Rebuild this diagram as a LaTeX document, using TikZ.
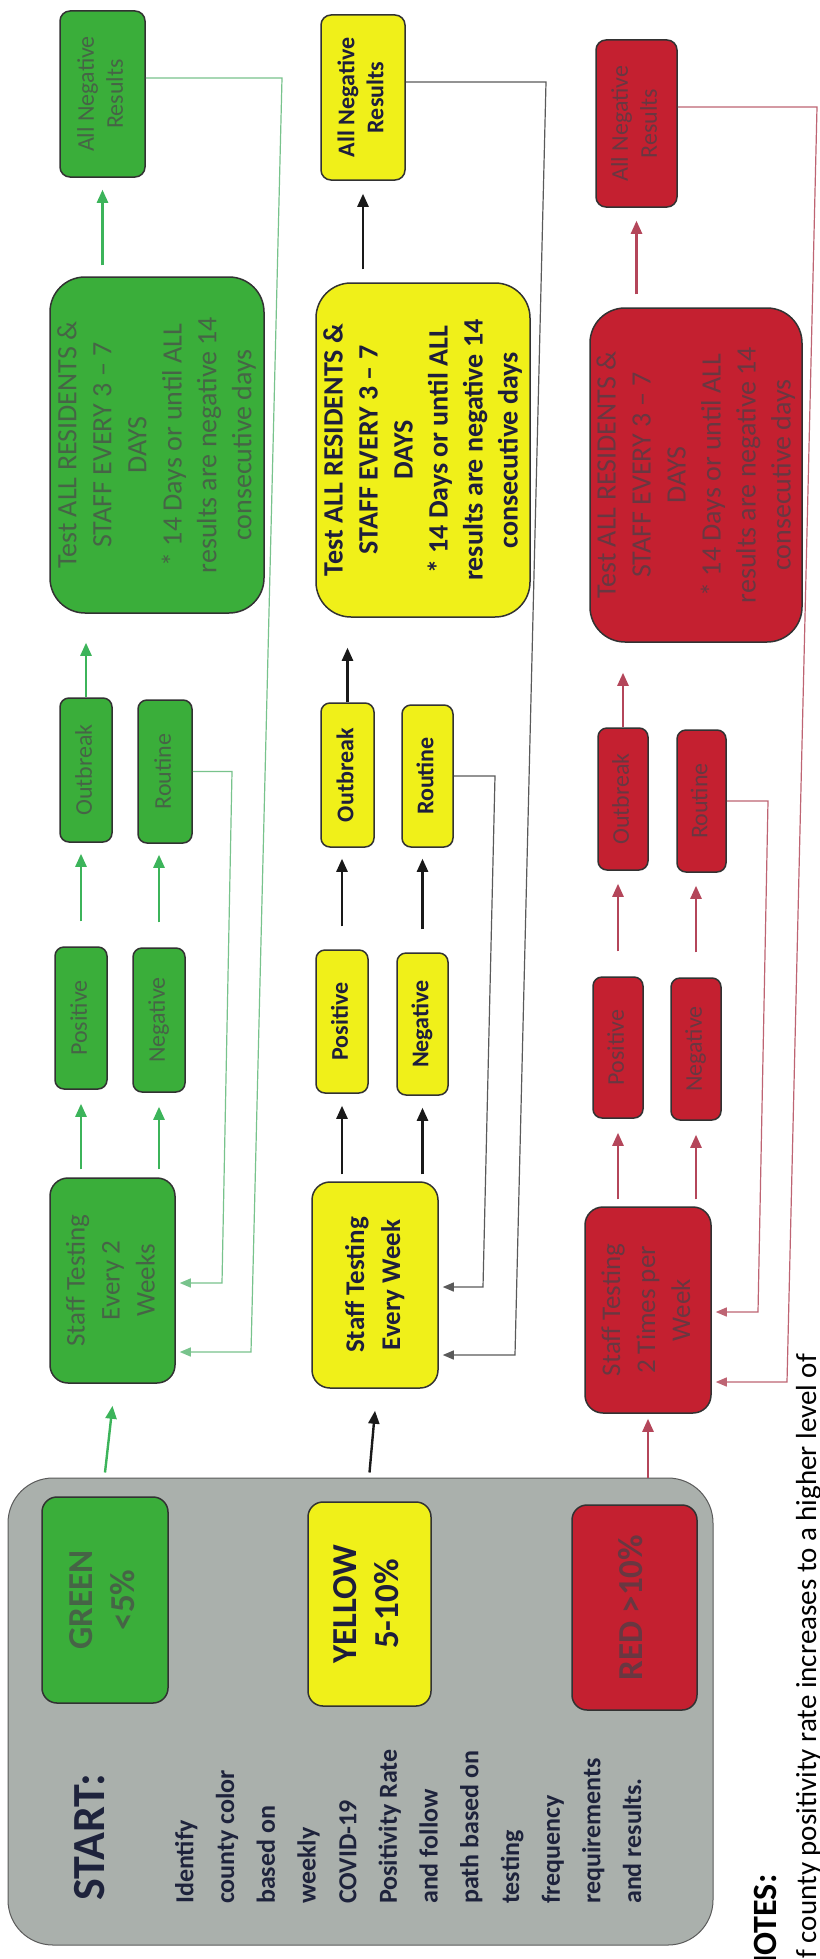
\documentclass[tikz,border=0pt]{standalone}
\usepackage{fontspec}
\setmainfont{Carlito}
\usepackage{graphicx}
\usetikzlibrary{arrows.meta}
\definecolor{gfill}{RGB}{58,174,58}
\definecolor{gtext}{RGB}{70,100,70}
\definecolor{yfill}{RGB}{240,240,25}
\definecolor{ytext}{RGB}{30,30,60}
\definecolor{rfill}{RGB}{196,32,48}
\definecolor{rtext}{RGB}{105,55,65}
\definecolor{bordc}{RGB}{50,50,50}
\definecolor{grayc}{RGB}{170,176,172}
\definecolor{starttext}{RGB}{30,35,60}
\definecolor{garrc}{RGB}{60,180,90}
\definecolor{gfbc}{RGB}{120,195,140}
\definecolor{karrc}{RGB}{25,25,25}
\definecolor{kfbc}{RGB}{90,90,90}
\definecolor{rarrc}{RGB}{180,70,90}
\definecolor{rfbc}{RGB}{190,100,115}
\newcommand{\rtx}[1]{\rotatebox{90}{\begin{tabular}{@{}c@{}}#1\end{tabular}}}
\begin{document}
\begin{tikzpicture}[x=1pt,y=-1pt,
  box/.style={draw=bordc, line width=1.5pt, inner sep=0pt, rounded corners=#1},
  box/.default=9pt,
  gb/.style={fill=gfill, text=gtext},
  yb/.style={fill=yfill, text=ytext},
  rb/.style={fill=rfill, text=rtext},
  fsmall/.style={font=\fontsize{24}{29}\selectfont},
  fsmallb/.style={font=\bfseries\fontsize{24}{29}\selectfont},
  fstaff/.style={font=\fontsize{27}{35}\selectfont},
  fstaffb/.style={font=\bfseries\fontsize{27}{36}\selectfont},
  ftest/.style={font=\fontsize{28}{35}\selectfont},
  ftestb/.style={font=\bfseries\fontsize{28}{35}\selectfont},
  fcol/.style={font=\bfseries\fontsize{35}{42}\selectfont},
  arr/.style={line width=2.4pt, -{Triangle[length=13pt,width=11pt]}},
  fb/.style={line width=1.2pt, -{Triangle[length=11pt,width=9pt]}},
  garr/.style={arr, color=garrc},
  karr/.style={arr, color=karrc},
  rarr/.style={arr, color=rarrc},
  gfb/.style={fb, color=gfbc},
  kfb/.style={fb, color=kfbc},
  rfb/.style={fb, color=rfbc}]
\useasboundingbox (0,0) rectangle (819,1959);
\fill[white] (0,0) rectangle (819,1959);
\clip (0,0) rectangle (819,1959);

% START panel
\node[draw=kfbc, line width=1pt, fill=grayc, rounded corners=45pt, minimum width=705pt, minimum height=467pt] (start) at (360.5,1711.5) {};
\node[rotate=90, anchor=west, inner sep=0pt, text=starttext, font=\bfseries\fontsize{46}{52}\selectfont] (startlbl) at (90,1901) {START:};
\node[rotate=90, anchor=north west, inner sep=0pt, align=left, text=starttext, font=\bfseries\fontsize{26}{40.7}\selectfont] (starttxt) at (175,1904)
 {Identify\\county color\\based on\\weekly\\COVID-19\\Positivity Rate\\and follow\\path based on\\testing\\frequency\\requirements\\and results.};

% colour boxes
\node[box=15pt, gb, fcol, minimum width=126pt, minimum height=206pt] (gcol) at (105,1600) {\rtx{GREEN\\<5\%}};
\node[box=15pt, yb, fcol, minimum width=123pt, minimum height=204pt] (ycol) at (369.5,1604) {\rtx{YELLOW\\5-10\%}};
\node[box=15pt, rb, fcol, minimum width=125pt, minimum height=205pt] (rcol) at (634.5,1607.5) {\rtx{RED >10\%}};

% green row
\node[box=10pt, gb, fsmall, minimum width=85pt, minimum height=166pt] (gall) at (102.5,94) {\rtx{All Negative\\Results}};
\node[box=35pt, gb, ftest, minimum width=214pt, minimum height=336pt] (gtest) at (157,445) {\rtx{Test ALL RESIDENTS \&\\STAFF EVERY 3 – 7\\DAYS\\{*} 14 Days or until ALL\\results are negative 14\\consecutive days}};
\node[box, gb, fsmall, minimum width=52pt, minimum height=144pt] (gout) at (86,770) {\rtx{Outbreak}};
\node[box, gb, fsmall, minimum width=54pt, minimum height=143pt] (grout) at (165,771.5) {\rtx{Routine}};
\node[box, gb, fsmall, minimum width=52pt, minimum height=142pt] (gpos) at (81,1018) {\rtx{Positive}};
\node[box, gb, fsmall, minimum width=52pt, minimum height=144pt] (gneg) at (159,1020) {\rtx{Negative}};
\node[box=18pt, gb, fstaff, minimum width=125pt, minimum height=205pt] (gstaff) at (112.5,1280.5) {\rtx{Staff Testing\\Every 2\\Weeks}};

% yellow row
\node[box=10pt, yb, fsmallb, minimum width=84pt, minimum height=165pt] (yall) at (363,97.5) {\rtx{All Negative\\Results}};
\node[box=35pt, yb, ftestb, minimum width=214pt, minimum height=334pt] (ytest) at (423,450) {\rtx{Test ALL RESIDENTS \&\\STAFF EVERY 3 – 7\\DAYS\\{*} 14 Days or until ALL\\results are negative 14\\consecutive days}};
\node[box, yb, fsmallb, minimum width=53pt, minimum height=144pt] (yout) at (347.5,775) {\rtx{Outbreak}};
\node[box, yb, fsmallb, minimum width=51pt, minimum height=142pt] (yrout) at (427.5,776) {\rtx{Routine}};
\node[box, yb, fsmallb, minimum width=52pt, minimum height=143pt] (ypos) at (342,1021.5) {\rtx{Positive}};
\node[box, yb, fsmallb, minimum width=51pt, minimum height=142pt] (yneg) at (422.5,1024) {\rtx{Negative}};
\node[box=18pt, yb, fstaffb, minimum width=126pt, minimum height=206pt] (ystaff) at (375,1285) {\rtx{Staff Testing\\Every Week}};

% red row
\node[box=10pt, rb, fsmall, minimum width=81pt, minimum height=167pt] (rall) at (636.5,123.5) {\rtx{All Negative\\Results}};
\node[box=35pt, rb, ftest, minimum width=212pt, minimum height=334pt] (rtest) at (696,475) {\rtx{Test ALL RESIDENTS \&\\STAFF EVERY 3 – 7\\DAYS\\{*} 14 Days or until ALL\\results are negative 14\\consecutive days}};
\node[box, rb, fsmall, minimum width=50pt, minimum height=142pt] (rout) at (623,799) {\rtx{Outbreak}};
\node[box, rb, fsmall, minimum width=49pt, minimum height=142pt] (rrout) at (701.5,801) {\rtx{Routine}};
\node[box, rb, fsmall, minimum width=50pt, minimum height=141pt] (rpos) at (618,1047.5) {\rtx{Positive}};
\node[box, rb, fsmall, minimum width=50pt, minimum height=142pt] (rneg) at (696,1049) {\rtx{Negative}};
\node[box=18pt, rb, fstaff, minimum width=126pt, minimum height=206pt] (rstaff) at (648,1310) {\rtx{Staff Testing\\2 Times per\\Week}};

% bend points of the (slightly slanted) feedback lines
\coordinate (gv1a) at (232,771.5);  \coordinate (gv1b) at (222,1283);
\coordinate (gv2a) at (282,78);     \coordinate (gv2b) at (251,1352);
\coordinate (yv1a) at (495,776);    \coordinate (yv1b) at (483,1287);
\coordinate (yv2a) at (546,82);     \coordinate (yv2b) at (515,1355);
\coordinate (rv1a) at (768,801);    \coordinate (rv1b) at (758,1312);
\coordinate (rv2a) at (817,107);    \coordinate (rv2b) at (787,1382);

% green arrows
\draw[garr] ([yshift=5pt]start.north -| gcol.north) -- ([yshift=-22pt]gstaff.south);
\draw[garr] ([yshift=8pt]gstaff.north -| gpos.south) -- ([yshift=-14pt]gpos.south);
\draw[garr] ([yshift=8pt]gstaff.north -| gneg.south) -- ([yshift=-14pt]gneg.south);
\draw[garr] ([yshift=25pt]gpos.north) -- ([yshift=-11pt]gout.south -| gpos.north);
\draw[garr] ([yshift=25pt]gneg.north) -- ([yshift=-11pt]grout.south -| gneg.north);
\draw[garr] (gout.north) -- ([yshift=-29pt]gtest.south -| gout.north);
\draw[garr] ([yshift=11pt]gtest.north -| gall.south) -- ([yshift=-12pt]gall.south);
\draw[gfb] (grout.east) -- (gv1a) -- (gv1b) -- ([xshift=4pt,yshift=-2.5pt]gstaff.east);
\draw[gfb] ([yshift=16pt]gall.east) -- (gv2a) -- (gv2b) -- ([xshift=4pt,yshift=-71.5pt]gstaff.east);

% yellow row arrows
\draw[karr] ([yshift=5pt]start.north -| ycol.north) -- ([yshift=-22pt]ystaff.south);
\draw[karr] ([yshift=7pt]ystaff.north -| ypos.south) -- ([yshift=-12pt]ypos.south);
\draw[karr] ([yshift=7pt]ystaff.north -| yneg.south) -- ([yshift=-12pt]yneg.south);
\draw[karr] ([yshift=23pt]ypos.north) -- ([yshift=-11pt]yout.south -| ypos.north);
\draw[karr] ([yshift=23pt]yneg.north) -- ([yshift=-11pt]yrout.south -| yneg.north);
\draw[karr] (yout.north) -- ([yshift=-30pt]ytest.south -| yout.north);
\draw[karr] ([yshift=13pt]ytest.north -| yall.south) -- ([yshift=-13pt]yall.south);
\draw[kfb] (yrout.east) -- (yv1a) -- (yv1b) -- ([xshift=4pt,yshift=-2pt]ystaff.east);
\draw[kfb] ([yshift=15.5pt]yall.east) -- (yv2a) -- (yv2b) -- ([xshift=4pt,yshift=-70pt]ystaff.east);

% red row arrows
\draw[rarr] (start.north -| rstaff.south) -- ([yshift=-5pt]rstaff.south);
\draw[rarr] ([yshift=7pt]rstaff.north -| rpos.south) -- ([yshift=-14pt]rpos.south);
\draw[rarr] ([yshift=7pt]rstaff.north -| rneg.south) -- ([yshift=-14pt]rneg.south);
\draw[rarr] ([yshift=25pt]rpos.north) -- ([yshift=-13pt]rout.south -| rpos.north);
\draw[rarr] ([yshift=25pt]rneg.north) -- ([yshift=-13pt]rrout.south -| rneg.north);
\draw[rarr] (rout.north) -- ([yshift=-30pt]rtest.south -| rout.north);
\draw[rarr] ([yshift=13pt]rtest.north -| rall.south) -- ([yshift=-13pt]rall.south);
\draw[rfb] (rrout.east) -- (rv1a) -- (rv1b) -- ([xshift=4pt,yshift=-2pt]rstaff.east);
\draw[rfb] ([yshift=16.5pt]rall.east) -- (rv2a) -- (rv2b) -- ([xshift=4pt,yshift=-72pt]rstaff.east);

% notes (cut at the page edge, as in the reference)
\node[rotate=90, anchor=base west, inner sep=0pt, text=black, font=\bfseries\fontsize{34}{40}\selectfont] (notes) at (776,1978) {NOTES:};
\node[rotate=90, anchor=base west, inner sep=0pt, text=black, font=\fontsize{29}{34}\selectfont] (note1) at (816,1966) {If county positivity rate increases to a higher level of};
\end{tikzpicture}
\end{document}
